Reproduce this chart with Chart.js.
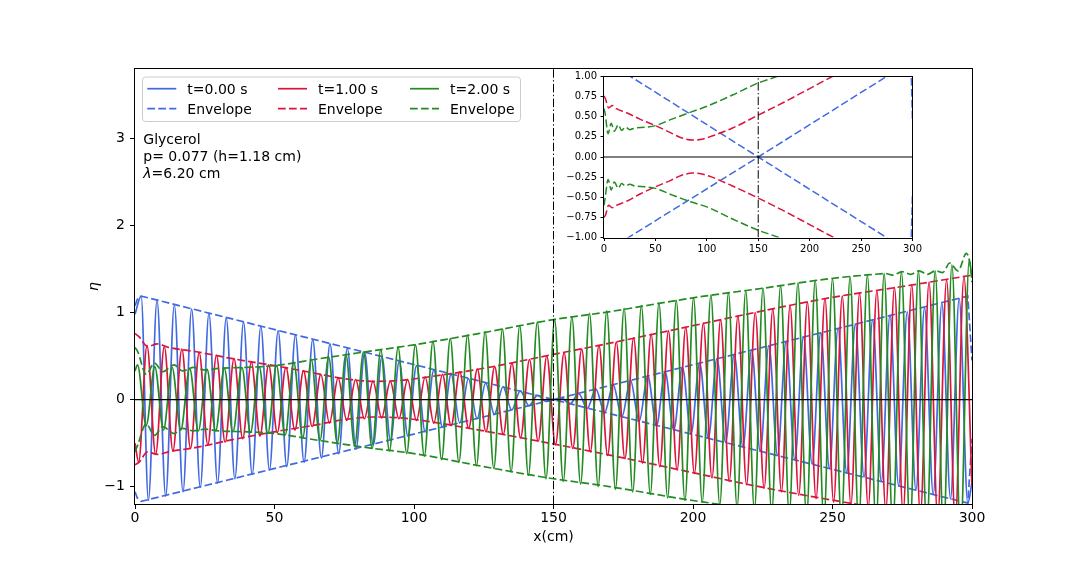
<!DOCTYPE html>
<html><head><meta charset="utf-8">
<script src="https://cdn.jsdelivr.net/npm/chart.js@4.4.0/dist/chart.umd.min.js"></script>
<style>
html,body{margin:0;padding:0;background:#fff;}
#wrap{position:relative;width:1080px;height:576px;overflow:hidden;}
#main{position:absolute;left:0;top:0;}
#inset{position:absolute;left:560px;top:66px;}
</style></head><body>
<div id="wrap"><canvas id="main" width="1080" height="576"></canvas><canvas id="inset" width="364" height="190"></canvas></div>
<script>
// ---------- data ----------
const xTicks = [0, 50, 100, 150, 200, 250, 300];
const yTicks = [-1, 0, 1, 2, 3];
const insetYTicks = [-1, -0.75, -0.5, -0.25, 0, 0.25, 0.5, 0.75, 1];

const seriesLabels = ['t=0.00 s', 't=1.00 s', 't=2.00 s'];
const envLabel = 'Envelope';
const noteLines = ['Glycerol', 'p= 0.077 (h=1.18 cm)', '=6.20 cm'];

// t = 0.00 s : successive crests / troughs
const blueX = [0, 2.2, 4.8, 7.9, 11.0, 14.1, 17.2, 20.3, 23.4, 26.5, 29.6, 32.7, 35.8, 38.9, 42.0, 45.1, 48.2, 51.3, 54.4, 57.5, 60.6, 63.7, 66.8, 69.9, 73.0, 76.1, 79.2, 82.3, 85.4, 88.5, 91.6, 94.7, 97.8, 100.9, 104.0, 107.1, 110.2, 113.3, 116.4, 119.5, 122.6, 125.7, 128.8, 131.9, 135.0, 138.1, 141.2, 144.3, 147.4, 152.8, 155.9, 159.0, 162.1, 165.2, 168.3, 171.4, 174.5, 177.6, 180.7, 183.8, 186.9, 190.0, 193.1, 196.2, 199.3, 202.4, 205.5, 208.6, 211.7, 214.8, 217.9, 221.0, 224.1, 227.2, 230.3, 233.4, 236.5, 239.6, 242.7, 245.8, 248.9, 252.0, 255.1, 258.2, 261.3, 264.4, 267.5, 270.6, 273.7, 276.8, 279.9, 283.0, 286.1, 289.2, 292.3, 295.4, 298.5, 300];
const blueY = [0.98, 1.19, -1.16, 1.14, -1.11, 1.09, -1.06, 1.04, -1.01, 0.99, -0.96, 0.94, -0.91, 0.89, -0.86, 0.84, -0.81, 0.79, -0.77, 0.74, -0.72, 0.69, -0.67, 0.64, -0.62, 0.59, -0.57, 0.54, -0.52, 0.49, -0.47, 0.44, -0.42, 0.39, -0.37, 0.34, -0.32, 0.29, -0.27, 0.24, -0.22, 0.19, -0.17, 0.15, -0.12, 0.10, -0.07, 0.05, -0.02, 0.02, -0.05, 0.07, -0.10, 0.12, -0.15, 0.17, -0.20, 0.22, -0.25, 0.27, -0.30, 0.32, -0.35, 0.37, -0.39, 0.42, -0.44, 0.47, -0.49, 0.52, -0.54, 0.57, -0.59, 0.62, -0.64, 0.67, -0.69, 0.72, -0.74, 0.77, -0.79, 0.82, -0.84, 0.87, -0.89, 0.92, -0.94, 0.97, -0.99, 1.01, -1.04, 1.06, -1.09, 1.11, -1.14, 1.16, -1.19, -0.95];

// t = 1.00 s
const redX = [0, 1.3, 4.3, 7.4, 10.5, 13.6, 16.8, 19.9, 23.0, 26.1, 29.2, 32.3, 35.5, 38.6, 41.7, 44.8, 47.9, 51.0, 54.1, 57.3, 60.4, 63.5, 66.6, 69.7, 72.8, 75.9, 79.1, 82.2, 85.3, 88.4, 91.5, 94.6, 97.7, 100.9, 104.0, 107.1, 110.2, 113.3, 116.4, 119.6, 122.7, 125.8, 128.9, 132.0, 135.1, 138.2, 141.4, 144.5, 147.6, 150.7, 153.8, 156.9, 160.1, 163.2, 166.3, 169.4, 172.5, 175.6, 178.7, 181.9, 185.0, 188.1, 191.2, 194.3, 197.4, 200.5, 203.7, 206.8, 209.9, 213.0, 216.1, 219.2, 222.3, 225.5, 228.6, 231.7, 234.8, 237.9, 241.0, 244.1, 247.3, 250.4, 253.5, 256.6, 259.7, 262.8, 265.9, 269.1, 272.2, 275.3, 278.4, 281.5, 284.6, 287.7, 290.9, 294.0, 297.1, 300];
const redY = [-0.50, -0.72, 0.62, -0.63, 0.61, -0.59, 0.58, -0.56, 0.54, -0.52, 0.51, -0.49, 0.47, -0.45, 0.43, -0.42, 0.40, -0.38, 0.37, -0.35, 0.33, -0.31, 0.29, -0.27, 0.25, -0.24, 0.23, -0.22, 0.21, -0.21, 0.21, -0.22, 0.23, -0.24, 0.26, -0.27, 0.29, -0.30, 0.32, -0.33, 0.35, -0.37, 0.38, -0.40, 0.42, -0.44, 0.46, -0.48, 0.50, -0.52, 0.54, -0.56, 0.58, -0.60, 0.62, -0.64, 0.66, -0.68, 0.71, -0.73, 0.75, -0.77, 0.79, -0.81, 0.83, -0.85, 0.88, -0.90, 0.92, -0.94, 0.96, -0.98, 1.00, -1.02, 1.04, -1.06, 1.08, -1.10, 1.12, -1.14, 1.16, -1.18, 1.19, -1.21, 1.22, -1.24, 1.25, -1.27, 1.29, -1.30, 1.32, -1.33, 1.35, -1.36, 1.38, -1.39, 1.41, -1.0];

// t = 2.00 s
const greenX = [0, 0.9, 4.0, 7.1, 10.2, 13.3, 16.4, 19.6, 22.7, 25.8, 28.9, 32.0, 35.1, 38.3, 41.4, 44.5, 47.6, 50.7, 53.8, 56.9, 60.1, 63.2, 66.3, 69.4, 72.5, 75.6, 78.7, 81.9, 85.0, 88.1, 91.2, 94.3, 97.4, 100.5, 103.7, 106.8, 109.9, 113.0, 116.1, 119.2, 122.4, 125.5, 128.6, 131.7, 134.8, 137.9, 141.0, 144.2, 147.3, 150.4, 153.5, 156.6, 159.7, 162.9, 166.0, 169.1, 172.2, 175.3, 178.4, 181.5, 184.7, 187.8, 190.9, 194.0, 197.1, 200.2, 203.3, 206.4, 209.6, 212.7, 215.8, 218.9, 222.0, 225.1, 228.2, 231.4, 234.5, 237.6, 240.7, 243.8, 246.9, 250.0, 253.2, 256.3, 259.4, 262.5, 265.6, 268.5, 271.6, 274.7, 277.8, 280.8, 283.8, 286.8, 289.8, 292.8, 295.9, 299.0, 300];
const greenY = [0.33, 0.40, -0.30, 0.38, -0.35, 0.37, -0.35, 0.36, -0.36, 0.35, -0.36, 0.36, -0.37, 0.37, -0.38, 0.38, -0.39, 0.39, -0.41, 0.43, -0.44, 0.46, -0.47, 0.49, -0.50, 0.52, -0.53, 0.55, -0.56, 0.57, -0.59, 0.60, -0.62, 0.63, -0.65, 0.67, -0.69, 0.70, -0.72, 0.74, -0.76, 0.78, -0.79, 0.81, -0.83, 0.85, -0.87, 0.89, -0.91, 0.92, -0.94, 0.95, -0.97, 0.99, -1.00, 1.02, -1.03, 1.05, -1.06, 1.08, -1.09, 1.11, -1.13, 1.14, -1.16, 1.17, -1.18, 1.20, -1.21, 1.23, -1.24, 1.25, -1.27, 1.28, -1.30, 1.31, -1.32, 1.34, -1.35, 1.37, -1.38, 1.39, -1.40, 1.41, -1.42, 1.43, -1.44, 1.45, -1.46, 1.47, -1.48, 1.48, -1.50, 1.48, -1.52, 1.55, -1.56, 1.60, 1.40];

// envelopes
const blueEnvX = [0, 0.8, 2.2, 150, 298.5, 300];
const blueEnvAY = [1.08, 1.15, 1.19, 0, -1.19, -0.45];
const blueEnvBY = [-1.06, -1.13, -1.17, 0, 1.19, 0.45];

const redEnvX = [0, 1.5, 4.5, 8, 12, 22, 35, 50, 65, 75, 86, 95, 105, 125, 150, 175, 200, 222, 249, 275, 300];
const redEnvUpY = [0.76, 0.72, 0.61, 0.64, 0.60, 0.55, 0.47, 0.39, 0.30, 0.24, 0.21, 0.22, 0.26, 0.36, 0.52, 0.68, 0.85, 1.00, 1.17, 1.30, 1.43];
const redEnvLoY = [-0.75, -0.72, -0.60, -0.63, -0.60, -0.55, -0.46, -0.37, -0.29, -0.23, -0.20, -0.21, -0.25, -0.36, -0.51, -0.67, -0.84, -0.99, -1.15, -1.29, -1.41];

const greenEnvUpX = [0, 1, 4, 7, 10, 14, 17, 21, 25, 30, 40, 50, 66, 85, 100, 125, 150, 168, 200, 225, 249, 265, 269, 271.5, 275, 278, 281, 284, 287, 289.5, 292, 295, 298, 299.5, 300];
const greenEnvUpY = [0.60, 0.55, 0.29, 0.42, 0.32, 0.40, 0.33, 0.37, 0.34, 0.36, 0.37, 0.39, 0.47, 0.56, 0.63, 0.77, 0.92, 1.00, 1.17, 1.28, 1.39, 1.44, 1.45, 1.43, 1.47, 1.44, 1.48, 1.44, 1.48, 1.46, 1.57, 1.48, 1.68, 1.52, 1.35];
const greenEnvLoX = [0, 1, 4, 7, 10, 14, 17, 21, 25, 30, 40, 50, 66, 85, 100, 125, 150, 168, 200, 225, 249, 265, 280, 300];
const greenEnvLoY = [-0.60, -0.52, -0.28, -0.41, -0.31, -0.39, -0.33, -0.36, -0.34, -0.36, -0.37, -0.39, -0.47, -0.56, -0.62, -0.77, -0.91, -0.99, -1.16, -1.27, -1.38, -1.43, -1.47, -1.55];

// reference lines
const zeroLineX = [0, 300];
const zeroLineY = [0, 0];
const markX = [150, 150];
const markY = [-1.2, 3.8];
const insetMarkY = [-1, 1];

// ---------- styling ----------
const BLUE = '#4169e1', RED = '#dc143c', GREEN = '#228b22';
const FONT = '"DejaVu Sans", "Liberation Sans", sans-serif';
Chart.defaults.font.family = FONT;
Chart.defaults.color = '#000';

const DASH = [7.7, 3.3];
const DASHDOT = [8.5, 2.4, 1.4, 2.4];

function pts(xs, ys) { return xs.map((x, i) => ({ x: x, y: ys[i] })); }
function line(xs, ys, color, extra) {
  return Object.assign({
    data: pts(xs, ys), borderColor: color, backgroundColor: color,
    borderWidth: 1.8, pointRadius: 0, pointHoverRadius: 0, fill: false,
    tension: 0
  }, extra || {});
}
const wave = { cubicInterpolationMode: 'monotone', borderWidth: 1.7 };
const env = { borderDash: DASH, borderWidth: 1.7 };
const envSmooth = { borderDash: DASH, borderWidth: 1.7, cubicInterpolationMode: 'monotone' };
const minus = s => String(s).replace('-', '\u2212');

function frame(ctx, a) {
  ctx.save();
  ctx.strokeStyle = '#000'; ctx.lineWidth = 1; ctx.setLineDash([]);
  ctx.strokeRect(Math.round(a.left) - 0.5, Math.round(a.top) - 0.5,
    Math.round(a.right) - Math.round(a.left) + 1, Math.round(a.bottom) - Math.round(a.top) + 1);
  ctx.restore();
}

// ---------- main chart ----------
const mainDecor = {
  id: 'mainDecor',
  afterDraw(chart) {
    const { ctx, chartArea: a } = chart;
    frame(ctx, a);
    ctx.save();
    ctx.fillStyle = '#000';
    ctx.font = '14px ' + FONT;
    ctx.textAlign = 'center'; ctx.textBaseline = 'alphabetic';
    ctx.fillText('x(cm)', (a.left + a.right) / 2, 541);
    ctx.save();
    ctx.translate(98, (a.top + a.bottom) / 2);
    ctx.rotate(-Math.PI / 2);
    ctx.font = 'italic 14px ' + FONT;
    ctx.fillText('\u03b7', 0, 0);
    ctx.restore();

    // legend box
    ctx.beginPath();
    ctx.roundRect(142.5, 77, 378, 44.5, 3);
    ctx.fillStyle = 'rgba(255,255,255,0.8)';
    ctx.fill();
    ctx.strokeStyle = '#cccccc'; ctx.lineWidth = 1;
    ctx.stroke();
    const cols = [147.3, 278, 410];
    const colors = [BLUE, RED, GREEN];
    ctx.textAlign = 'left';
    ctx.font = '14px ' + FONT;
    for (let c = 0; c < 3; c++) {
      ctx.strokeStyle = colors[c]; ctx.lineWidth = 1.7;
      ctx.setLineDash([]);
      ctx.beginPath(); ctx.moveTo(cols[c], 88.7); ctx.lineTo(cols[c] + 29, 88.7); ctx.stroke();
      ctx.setLineDash(DASH);
      ctx.beginPath(); ctx.moveTo(cols[c], 108.7); ctx.lineTo(cols[c] + 29, 108.7); ctx.stroke();
      ctx.setLineDash([]);
      ctx.fillStyle = '#000';
      ctx.fillText(seriesLabels[c], cols[c] + 40, 93.8);
      ctx.fillText(envLabel, cols[c] + 40, 113.8);
    }

    // annotation
    ctx.fillStyle = '#000';
    ctx.fillText(noteLines[0], 143.3, 144);
    ctx.fillText(noteLines[1], 143.3, 160.5);
    ctx.font = 'italic 14px ' + FONT;
    ctx.fillText('\u03bb', 143.3, 177.5);
    const w = ctx.measureText('\u03bb').width;
    ctx.font = '14px ' + FONT;
    ctx.fillText(noteLines[2], 143.3 + w, 177.5);
    ctx.restore();
  }
};

new Chart(document.getElementById('main'), {
  type: 'line',
  data: {
    datasets: [
      line(zeroLineX, zeroLineY, '#000', { borderWidth: 1.1 }),
      line(markX, markY, '#000', { borderWidth: 1, borderDash: DASHDOT }),
      line(greenEnvUpX, greenEnvUpY, GREEN, envSmooth),
      line(greenEnvLoX, greenEnvLoY, GREEN, envSmooth),
      line(greenX, greenY, GREEN, wave),
      line(redEnvX, redEnvUpY, RED, envSmooth),
      line(redEnvX, redEnvLoY, RED, envSmooth),
      line(redX, redY, RED, wave),
      line(blueEnvX, blueEnvAY, BLUE, env),
      line(blueEnvX, blueEnvBY, BLUE, env),
      line(blueX, blueY, BLUE, wave)
    ]
  },
  options: {
    responsive: false, animation: false, events: [],
    layout: { padding: { left: 78, right: 108, top: 69, bottom: 0 } },
    plugins: { legend: { display: false }, tooltip: { enabled: false } },
    scales: {
      x: {
        type: 'linear', min: 0, max: 300,
        afterBuildTicks: s => { s.ticks = xTicks.map(v => ({ value: v })); },
        afterFit: s => { s.height = 72; },
        ticks: { font: { size: 14 }, color: '#000', padding: 1, maxRotation: 0, autoSkip: false, callback: v => minus(v) },
        grid: { drawOnChartArea: false, drawTicks: true, tickLength: 5, color: '#000', lineWidth: 1 },
        border: { display: false }
      },
      y: {
        type: 'linear', min: -1.2, max: 3.8,
        afterBuildTicks: s => { s.ticks = yTicks.map(v => ({ value: v })); },
        afterFit: s => { s.width = 57; },
        ticks: { font: { size: 14 }, color: '#000', padding: 5, autoSkip: false, callback: v => minus(v) },
        grid: { drawOnChartArea: false, drawTicks: true, tickLength: 5, color: '#000', lineWidth: 1 },
        border: { display: false }
      }
    }
  },
  plugins: [mainDecor]
});

// ---------- inset chart ----------
const insetDecor = {
  id: 'insetDecor',
  beforeDraw(chart) {
    const { ctx, chartArea: a } = chart;
    ctx.save(); ctx.fillStyle = '#fff';
    ctx.fillRect(a.left, a.top, a.right - a.left, a.bottom - a.top);
    ctx.restore();
  },
  afterDraw(chart) { frame(chart.ctx, chart.chartArea); }
};

const iw = { borderWidth: 1.5 };
new Chart(document.getElementById('inset'), {
  type: 'line',
  data: {
    datasets: [
      line(zeroLineX, zeroLineY, '#000', { borderWidth: 1.1 }),
      line(markX, insetMarkY, '#000', { borderWidth: 1, borderDash: DASHDOT }),
      line(greenEnvUpX, greenEnvUpY, GREEN, Object.assign({}, envSmooth, iw)),
      line(greenEnvLoX, greenEnvLoY, GREEN, Object.assign({}, envSmooth, iw)),
      line(redEnvX, redEnvUpY, RED, Object.assign({}, envSmooth, iw)),
      line(redEnvX, redEnvLoY, RED, Object.assign({}, envSmooth, iw)),
      line(blueEnvX, blueEnvAY, BLUE, Object.assign({}, env, iw)),
      line(blueEnvX, blueEnvBY, BLUE, Object.assign({}, env, iw))
    ]
  },
  options: {
    responsive: false, animation: false, events: [],
    layout: { padding: { left: 0, right: 11, top: 10.5, bottom: 0 } },
    plugins: { legend: { display: false }, tooltip: { enabled: false } },
    scales: {
      x: {
        type: 'linear', min: 0, max: 300,
        afterBuildTicks: s => { s.ticks = xTicks.map(v => ({ value: v })); },
        afterFit: s => { s.height = 18.5; },
        ticks: { font: { size: 10 }, color: '#000', padding: 2, maxRotation: 0, autoSkip: false, callback: v => minus(v) },
        grid: { drawOnChartArea: false, drawTicks: true, tickLength: 3.5, color: '#000', lineWidth: 1 },
        border: { display: false }
      },
      y: {
        type: 'linear', min: -1, max: 1,
        afterBuildTicks: s => { s.ticks = insetYTicks.map(v => ({ value: v })); },
        afterFit: s => { s.width = 44; },
        ticks: { font: { size: 10 }, color: '#000', padding: 3.5, autoSkip: false, callback: v => minus(Number(v).toFixed(2)) },
        grid: { drawOnChartArea: false, drawTicks: true, tickLength: 3.5, color: '#000', lineWidth: 1 },
        border: { display: false }
      }
    }
  },
  plugins: [insetDecor]
});
</script>
</body></html>
